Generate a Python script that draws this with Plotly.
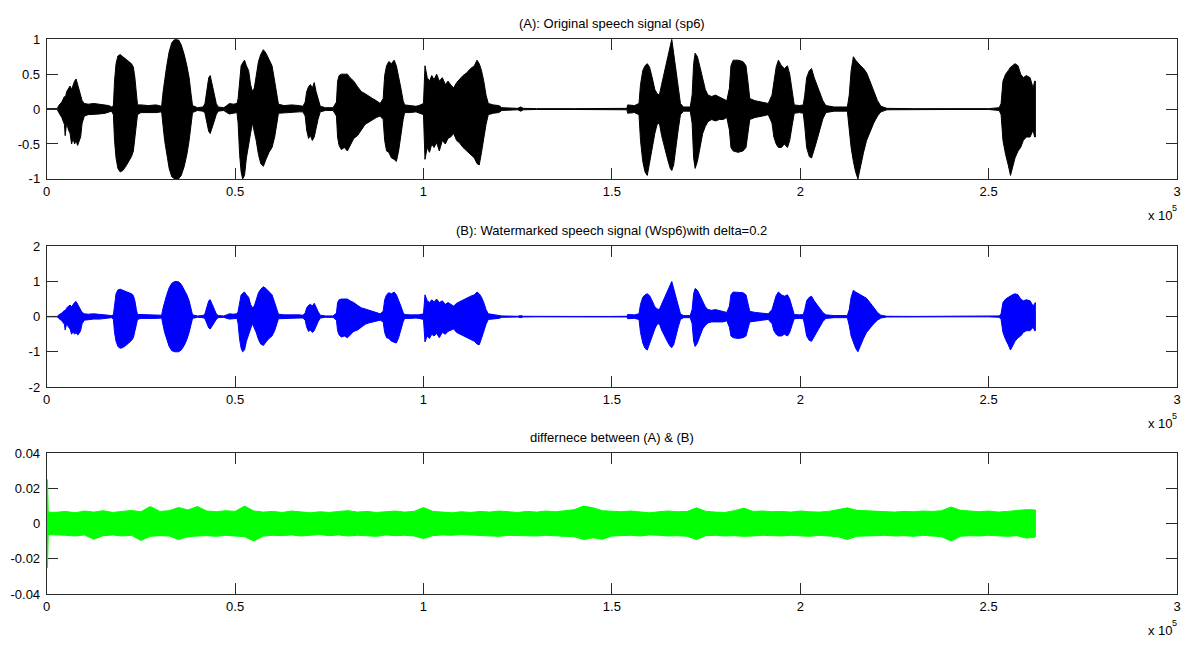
import plotly.graph_objects as go

W, H = 1186, 645

# Original speech signal sp6: peak envelope per position (position in units of 10^5 samples)
sp6_pos = [
    0.000, 0.028, 0.032, 0.040, 0.047, 0.049, 0.053, 0.058, 0.062, 0.066, 0.070, 0.074, 0.078, 0.082,
    0.086, 0.090, 0.094, 0.100, 0.110, 0.125, 0.140, 0.155, 0.165, 0.172,
    0.177, 0.180, 0.184, 0.189, 0.195, 0.202, 0.210, 0.218, 0.225, 0.230, 0.234, 0.238, 0.241,
    0.250, 0.270, 0.290, 0.305,
    0.309, 0.313, 0.318, 0.325, 0.332, 0.340, 0.350, 0.357, 0.365, 0.372, 0.378, 0.383, 0.387,
    0.400, 0.415,
    0.420, 0.425, 0.430, 0.434, 0.438, 0.443, 0.450, 0.455, 0.470, 0.478, 0.485, 0.495, 0.505,
    0.508, 0.512, 0.516, 0.520, 0.525, 0.530, 0.536, 0.541, 0.546, 0.551, 0.556, 0.562, 0.568,
    0.575, 0.582, 0.590, 0.598, 0.605, 0.611, 0.615, 0.630, 0.650, 0.670, 0.680,
    0.686, 0.690, 0.695, 0.700, 0.705, 0.710, 0.715, 0.720, 0.726, 0.740, 0.760,
    0.769, 0.772, 0.776, 0.782, 0.790, 0.798, 0.805, 0.815, 0.825, 0.835, 0.845, 0.855, 0.865,
    0.875, 0.885,
    0.893, 0.897, 0.902, 0.908, 0.915, 0.922, 0.928, 0.934, 0.940, 0.946, 0.950, 0.965, 0.980,
    0.988, 1.000, 1.004, 1.010, 1.016, 1.022, 1.028, 1.035, 1.042, 1.050, 1.058, 1.065, 1.072,
    1.080, 1.088, 1.095, 1.105, 1.115, 1.125, 1.135, 1.142, 1.148, 1.154, 1.160, 1.166, 1.172,
    1.185, 1.200, 1.208, 1.250, 1.258, 1.265, 1.300, 1.400, 1.500,
    1.540, 1.542, 1.560, 1.572, 1.576, 1.582, 1.588, 1.594, 1.600, 1.607, 1.614, 1.620, 1.626,
    1.632, 1.640, 1.648, 1.655, 1.659, 1.664, 1.670, 1.676, 1.682, 1.690, 1.708,
    1.713, 1.717, 1.721, 1.727, 1.734, 1.741, 1.748, 1.755, 1.765, 1.775, 1.785, 1.795, 1.805,
    1.812, 1.816, 1.822, 1.835, 1.848, 1.856, 1.861, 1.866, 1.880, 1.900, 1.915,
    1.925, 1.930, 1.936, 1.942, 1.950, 1.958, 1.966, 1.972, 1.978, 1.984, 1.998, 2.008,
    2.012, 2.017, 2.024, 2.030, 2.037, 2.044, 2.052, 2.060, 2.068, 2.090, 2.125,
    2.130, 2.135, 2.141, 2.147, 2.153, 2.160, 2.168, 2.176, 2.185, 2.195, 2.205, 2.214, 2.230,
    2.300, 2.400, 2.500, 2.528,
    2.533, 2.538, 2.545, 2.552, 2.558, 2.563, 2.570, 2.578, 2.585, 2.592, 2.600, 2.610, 2.618,
    2.622, 2.624,
]
sp6_upper = [
    0.004, 0.006, 0.05, 0.10, 0.18, 0.15, 0.25, 0.30, 0.33, 0.28, 0.36, 0.40, 0.43, 0.35,
    0.30, 0.22, 0.12, 0.08, 0.07, 0.08, 0.07, 0.06, 0.05, 0.03,
    0.05, 0.40, 0.65, 0.76, 0.78, 0.75, 0.72, 0.68, 0.65, 0.60, 0.45, 0.20, 0.06,
    0.06, 0.05, 0.06, 0.04,
    0.25, 0.45, 0.60, 0.82, 0.95, 1.00, 0.99, 0.92, 0.78, 0.62, 0.45, 0.22, 0.05,
    0.02, 0.03,
    0.08, 0.30, 0.45, 0.48, 0.38, 0.22, 0.08, 0.03, 0.02, 0.05, 0.08, 0.07, 0.08,
    0.15, 0.45, 0.62, 0.66, 0.70, 0.62, 0.55, 0.35, 0.25, 0.30, 0.50, 0.68, 0.78,
    0.85, 0.80, 0.72, 0.62, 0.40, 0.20, 0.07, 0.05, 0.06, 0.05, 0.04,
    0.10, 0.25, 0.32, 0.35, 0.30, 0.38, 0.25, 0.15, 0.04, 0.02, 0.02,
    0.10, 0.40, 0.48, 0.50, 0.50, 0.50, 0.45, 0.40, 0.32, 0.25, 0.22, 0.18, 0.15,
    0.12, 0.08,
    0.15, 0.48, 0.62, 0.68, 0.65, 0.70, 0.62, 0.48, 0.30, 0.12, 0.06, 0.05, 0.04,
    0.05, 0.08, 0.62, 0.45, 0.40, 0.48, 0.42, 0.50, 0.40, 0.45, 0.35, 0.40, 0.35,
    0.30, 0.38, 0.42, 0.48, 0.52, 0.58, 0.62, 0.70, 0.65, 0.55, 0.40, 0.20, 0.08,
    0.06, 0.05, 0.02, 0.01, 0.03, 0.01, 0.006, 0.006, 0.006,
    0.01, 0.06, 0.05, 0.08, 0.35, 0.55, 0.62, 0.65, 0.60, 0.45, 0.28, 0.22, 0.20,
    0.35, 0.55, 0.75, 0.95, 1.00, 0.80, 0.55, 0.30, 0.08, 0.03, 0.03,
    0.20, 0.65, 0.80, 0.75, 0.60, 0.45, 0.28, 0.20, 0.18, 0.20, 0.17, 0.15, 0.12,
    0.30, 0.62, 0.70, 0.70, 0.68, 0.62, 0.40, 0.15, 0.12, 0.10, 0.08,
    0.20, 0.40, 0.60, 0.70, 0.62, 0.58, 0.62, 0.50, 0.25, 0.06, 0.05, 0.06,
    0.20, 0.45, 0.55, 0.58, 0.45, 0.35, 0.22, 0.12, 0.05, 0.03, 0.03,
    0.20, 0.55, 0.75, 0.70, 0.66, 0.62, 0.58, 0.52, 0.40, 0.25, 0.12, 0.04, 0.01,
    0.006, 0.006, 0.006, 0.02,
    0.08, 0.40, 0.50, 0.55, 0.60, 0.62, 0.65, 0.62, 0.50, 0.45, 0.48, 0.45, 0.30,
    0.40, 0.40,
]
sp6_lower = [
    -0.004, -0.006, -0.05, -0.12, -0.22, -0.38, -0.20, -0.30, -0.35, -0.50, -0.42, -0.50, -0.45, -0.52,
    -0.48, -0.40, -0.20, -0.10, -0.08, -0.07, -0.07, -0.06, -0.04, -0.03,
    -0.08, -0.45, -0.70, -0.85, -0.90, -0.88, -0.82, -0.75, -0.68, -0.60, -0.45, -0.25, -0.08,
    -0.05, -0.05, -0.05, -0.04,
    -0.25, -0.45, -0.62, -0.85, -0.97, -1.00, -1.00, -0.95, -0.82, -0.65, -0.45, -0.25, -0.05,
    -0.02, -0.03,
    -0.06, -0.20, -0.32, -0.35, -0.30, -0.20, -0.08, -0.03, -0.02, -0.05, -0.07, -0.06, -0.05,
    -0.20, -0.65, -0.90, -1.00, -0.95, -0.70, -0.50, -0.35, -0.20, -0.30, -0.45, -0.65, -0.78,
    -0.82, -0.72, -0.62, -0.55, -0.40, -0.20, -0.06, -0.05, -0.05, -0.04, -0.04,
    -0.10, -0.30, -0.42, -0.38, -0.45, -0.40, -0.30, -0.15, -0.04, -0.02, -0.02,
    -0.10, -0.40, -0.52, -0.58, -0.55, -0.60, -0.52, -0.42, -0.38, -0.30, -0.22, -0.18, -0.15,
    -0.12, -0.10,
    -0.15, -0.45, -0.60, -0.62, -0.70, -0.72, -0.75, -0.60, -0.40, -0.15, -0.05, -0.05, -0.04,
    -0.05, -0.08, -0.72, -0.55, -0.62, -0.50, -0.55, -0.48, -0.60, -0.45, -0.50, -0.42, -0.40,
    -0.35, -0.45, -0.48, -0.55, -0.60, -0.65, -0.70, -0.78, -0.80, -0.62, -0.45, -0.22, -0.08,
    -0.06, -0.05, -0.02, -0.01, -0.03, -0.01, -0.006, -0.006, -0.006,
    -0.01, -0.06, -0.05, -0.08, -0.45, -0.75, -0.90, -0.95, -0.80, -0.55, -0.35, -0.22, -0.20,
    -0.38, -0.55, -0.72, -0.85, -0.88, -0.80, -0.55, -0.30, -0.08, -0.03, -0.03,
    -0.20, -0.70, -0.85, -0.75, -0.55, -0.35, -0.25, -0.18, -0.15, -0.17, -0.15, -0.15, -0.12,
    -0.30, -0.55, -0.60, -0.62, -0.60, -0.55, -0.35, -0.15, -0.12, -0.10, -0.08,
    -0.20, -0.40, -0.50, -0.55, -0.55, -0.50, -0.55, -0.45, -0.25, -0.06, -0.05, -0.06,
    -0.25, -0.55, -0.68, -0.70, -0.58, -0.45, -0.28, -0.14, -0.05, -0.03, -0.03,
    -0.25, -0.55, -0.75, -0.90, -1.00, -0.82, -0.62, -0.45, -0.32, -0.20, -0.10, -0.04, -0.01,
    -0.006, -0.006, -0.006, -0.02,
    -0.08, -0.45, -0.65, -0.80, -0.95, -0.85, -0.70, -0.60, -0.55, -0.45, -0.40, -0.40, -0.30,
    -0.40, -0.40,
]

# Watermarked signal Wsp6 (delta = 0.2): same envelope to within the watermark residue
wsp6_pos = sp6_pos
wsp6_upper = sp6_upper
wsp6_lower = sp6_lower

# Difference (A) - (B): peak envelope of the residue
diff_pos = [
    0.000, 0.002, 0.004,
    0.025, 0.050, 0.075, 0.100, 0.125, 0.150, 0.175, 0.200, 0.225, 0.250,
    0.275, 0.300, 0.325, 0.350, 0.375, 0.400, 0.425, 0.450, 0.475, 0.500,
    0.525, 0.550, 0.575, 0.600, 0.625, 0.650, 0.675, 0.700, 0.725, 0.750,
    0.775, 0.800, 0.825, 0.850, 0.875, 0.900, 0.925, 0.950, 0.975, 1.000,
    1.025, 1.050, 1.075, 1.100, 1.125, 1.150, 1.175, 1.200, 1.225, 1.250,
    1.275, 1.300, 1.325, 1.350, 1.375, 1.400, 1.425, 1.450, 1.475, 1.500,
    1.525, 1.550, 1.575, 1.600, 1.625, 1.650, 1.675, 1.700, 1.725, 1.750,
    1.775, 1.800, 1.825, 1.850, 1.875, 1.900, 1.925, 1.950, 1.975, 2.000,
    2.025, 2.050, 2.075, 2.100, 2.125, 2.150, 2.175, 2.200, 2.225, 2.250,
    2.275, 2.300, 2.325, 2.350, 2.375, 2.400, 2.425, 2.450, 2.475, 2.500,
    2.525, 2.550, 2.575, 2.600,
    2.624,
]
diff_upper = [
    0.025, 0.025, 0.0065,
    0.0065, 0.0070, 0.0062, 0.0072, 0.0066, 0.0074, 0.0064, 0.0070, 0.0075, 0.0068,
    0.0098, 0.0070, 0.0074, 0.0092, 0.0078, 0.0098, 0.0072, 0.0068, 0.0074, 0.0070,
    0.0100, 0.0072, 0.0066, 0.0070, 0.0064, 0.0072, 0.0066, 0.0062, 0.0068, 0.0064,
    0.0070, 0.0074, 0.0066, 0.0070, 0.0064, 0.0068, 0.0072, 0.0066, 0.0070, 0.0092,
    0.0070, 0.0066, 0.0062, 0.0068, 0.0064, 0.0070, 0.0066, 0.0072, 0.0068, 0.0064,
    0.0070, 0.0066, 0.0072, 0.0068, 0.0074, 0.0080, 0.0100, 0.0090, 0.0074, 0.0070,
    0.0068, 0.0072, 0.0066, 0.0062, 0.0068, 0.0072, 0.0068, 0.0070, 0.0090, 0.0070,
    0.0066, 0.0064, 0.0074, 0.0088, 0.0070, 0.0072, 0.0068, 0.0070, 0.0066, 0.0072,
    0.0068, 0.0066, 0.0070, 0.0078, 0.0090, 0.0076, 0.0074, 0.0070, 0.0072, 0.0066,
    0.0070, 0.0068, 0.0072, 0.0070, 0.0074, 0.0095, 0.0076, 0.0070, 0.0068, 0.0072,
    0.0066, 0.0070, 0.0074, 0.0080,
    0.0078,
]
diff_lower = [
    -0.025, -0.025, -0.0062,
    -0.0062, -0.0066, -0.0070, -0.0064, -0.0088, -0.0068, -0.0064, -0.0070, -0.0066, -0.0095,
    -0.0072, -0.0068, -0.0070, -0.0090, -0.0074, -0.0070, -0.0068, -0.0072, -0.0066, -0.0070,
    -0.0074, -0.0098, -0.0070, -0.0066, -0.0068, -0.0064, -0.0070, -0.0066, -0.0062, -0.0068,
    -0.0064, -0.0070, -0.0066, -0.0068, -0.0072, -0.0064, -0.0068, -0.0066, -0.0070, -0.0084,
    -0.0068, -0.0064, -0.0066, -0.0062, -0.0068, -0.0066, -0.0070, -0.0072, -0.0066, -0.0064,
    -0.0068, -0.0070, -0.0066, -0.0068, -0.0072, -0.0074, -0.0090, -0.0080, -0.0088, -0.0070,
    -0.0068, -0.0066, -0.0070, -0.0064, -0.0066, -0.0070, -0.0068, -0.0072, -0.0090, -0.0068,
    -0.0066, -0.0070, -0.0068, -0.0072, -0.0070, -0.0066, -0.0068, -0.0070, -0.0066, -0.0068,
    -0.0072, -0.0066, -0.0070, -0.0074, -0.0090, -0.0072, -0.0070, -0.0068, -0.0066, -0.0070,
    -0.0068, -0.0072, -0.0066, -0.0070, -0.0074, -0.0098, -0.0072, -0.0068, -0.0070, -0.0066,
    -0.0070, -0.0072, -0.0068, -0.0082,
    -0.0076,
]

titles = [
    "(A): Original speech signal (sp6)",
    "(B): Watermarked speech signal (Wsp6)with delta=0.2",
    "differnece between (A) & (B)",
]
x_ticks = [0, 0.5, 1, 1.5, 2, 2.5, 3]
x_ticktext = ["0", "0.5", "1", "1.5", "2", "2.5", "3"]
y_ticks = [
    [-1, -0.5, 0, 0.5, 1],
    [-2, -1, 0, 1, 2],
    [-0.04, -0.02, 0, 0.02, 0.04],
]
y_ticktext = [
    ["-1", "-0.5", "0", "0.5", "1"],
    ["-2", "-1", "0", "1", "2"],
    ["-0.04", "-0.02", "0", "0.02", "0.04"],
]
colors = ["#000000", "#0000ff", "#00ff00"]
series = [
    (sp6_pos, sp6_upper, sp6_lower),
    (wsp6_pos, wsp6_upper, wsp6_lower),
    (diff_pos, diff_upper, diff_lower),
]

# panel frames in pixels: (top, bottom); shared left/right edges
frames = [(33, 176), (245, 389), (457, 601)]
left_px, right_px = 43, 1181

FONT = "Liberation Sans, Arial, Helvetica, sans-serif"
AXCOL = "#2a2a2a"

fig = go.Figure()
annotations = []
for i, ((pos, up, lo), col) in enumerate(zip(series, colors)):
    n = "" if i == 0 else str(i + 1)
    xs = list(pos) + list(pos)[::-1]
    ys = list(up) + list(lo)[::-1]
    fig.add_trace(go.Scatter(
        x=xs, y=ys, mode="lines", fill="toself", fillcolor=col,
        line=dict(color=col, width=1), hoverinfo="skip", showlegend=False,
        cliponaxis=False, xaxis="x" + n, yaxis="y" + n,
    ))
    top, bot = frames[i]
    axis_common = dict(
        showline=True, linecolor=AXCOL, linewidth=1, mirror="ticks",
        ticks="inside", ticklen=11, tickwidth=1, tickcolor=AXCOL,
        showgrid=False, zeroline=False, fixedrange=True,
        tickfont=dict(family=FONT, size=13, color="#000000"),
        layer="below traces" if i == 2 else "above traces",
    )
    fig.update_layout(**{
        "xaxis" + n: dict(
            domain=[left_px / W, right_px / W], range=[0, 3],
            tickvals=x_ticks, ticktext=x_ticktext,
            anchor="y" + n, **axis_common,
        ),
        "yaxis" + n: dict(
            domain=[1 - bot / H, 1 - top / H], range=[y_ticks[i][0], y_ticks[i][-1]],
            tickvals=y_ticks[i], ticktext=y_ticktext[i], ticklabelstandoff=3,
            anchor="x" + n, **axis_common,
        ),
    })
    annotations.append(dict(
        text=titles[i], xref="paper", yref="paper",
        x=(left_px + right_px) / 2 / W, y=1 - (top - 16) / H,
        xanchor="center", yanchor="middle", showarrow=False,
        font=dict(family=FONT, size=13, color="#000000"),
    ))
    # "x 10^5" multiplier under the right end of each x axis
    annotations.append(dict(
        text="x 10", xref="paper", yref="paper",
        x=(right_px - 2) / W, y=1 - (bot + 37) / H,
        xanchor="right", yanchor="middle", showarrow=False,
        font=dict(family=FONT, size=13, color="#000000"),
    ))
    annotations.append(dict(
        text="5", xref="paper", yref="paper",
        x=(right_px - 7) / W, y=1 - (bot + 30) / H,
        xanchor="left", yanchor="middle", showarrow=False,
        font=dict(family=FONT, size=9, color="#000000"),
    ))

fig.update_layout(
    width=W, height=H,
    margin=dict(l=0, r=0, t=0, b=0),
    paper_bgcolor="#ffffff", plot_bgcolor="#ffffff",
    annotations=annotations,
    showlegend=False,
)

fig.write_html("out.html", config={"displayModeBar": False})
